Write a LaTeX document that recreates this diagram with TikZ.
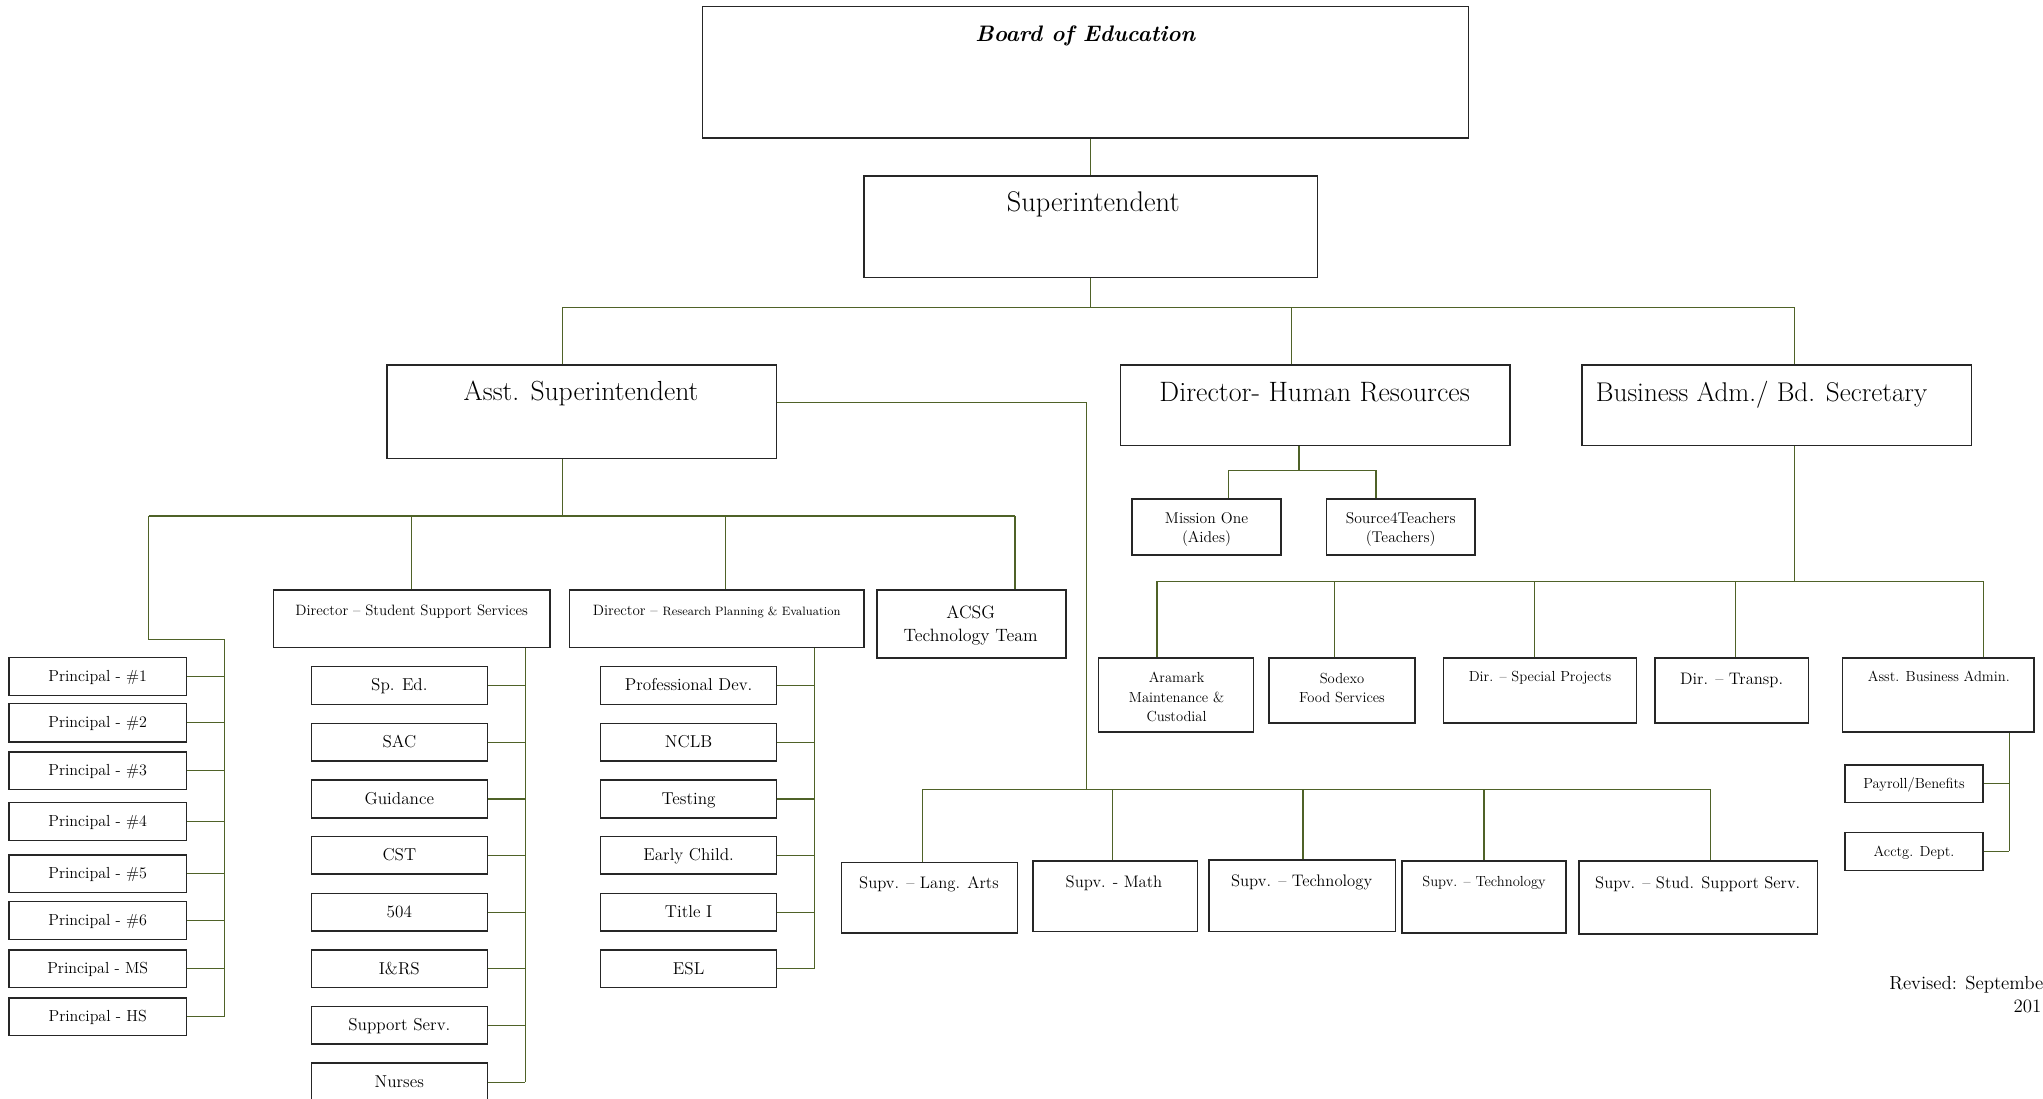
\documentclass[tikz,border=0pt]{standalone}
\usepackage{fontspec}
\usetikzlibrary{calc}
\definecolor{boxline}{HTML}{262626}
\definecolor{olive}{HTML}{4F6228}
\tikzset{
  obox/.style={draw=boxline, line width=1.2pt, fill=white, inner sep=0pt, rectangle},
  conn/.style={draw=olive, line width=0.9pt},
  txt/.style={inner sep=0pt, anchor=mid, align=center, text=black},
  fsuper/.style={font=\fontsize{21.8}{25}\selectfont},
  fasst/.style={font=\fontsize{21.2}{25}\selectfont},
  fhr/.style={font=\fontsize{21.5}{25}\selectfont},
  fbus/.style={font=\fontsize{20.8}{25}\selectfont},
  fboard/.style={font=\fontsize{17.2}{20}\selectfont\bfseries\itshape},
  fprin/.style={font=\fontsize{12.3}{15}\selectfont},
  fchild/.style={font=\fontsize{13.2}{15}\selectfont},
  fsup/.style={font=\fontsize{12.8}{15}\selectfont},
  fsm/.style={font=\fontsize{11.2}{15}\selectfont},
  fdir/.style={font=\fontsize{11.5}{15}\selectfont},
  fmis/.style={font=\fontsize{12}{15}\selectfont},
  facsg/.style={font=\fontsize{13.7}{18}\selectfont},
  frev/.style={font=\fontsize{14.5}{18}\selectfont},
}
\newcommand\bx[5]{\node[obox, minimum width={(#4-#2)*1pt}, minimum height={(#5-#3)*1pt}] (#1) at ({(#2+#4)/2},{(#3+#5)/2}) {};}
\newcommand\tx[5]{\node[txt, #4] (#1) at (#2,#3) {#5};}
\begin{document}
\begin{tikzpicture}[x=1pt,y=-1pt]
\useasboundingbox (0,0) rectangle (1568,843);
\fill[white] (0,0) rectangle (1568,843);
\clip (0,0) rectangle (1568,843);
% ---------- boxes ----------
\bx{board}{539}{5}{1127}{106}
\bx{sup}{663}{135}{1011}{213}
\bx{asst}{297}{280}{596}{352}
\bx{hr}{860}{280}{1159}{342}
\bx{bus}{1214}{280}{1513}{342}
\bx{m1}{869}{383}{983}{426}
\bx{s4t}{1018}{383}{1132}{426}
\bx{sss}{210}{453}{422}{497}
\bx{rpe}{437}{453}{663}{497}
\bx{acsg}{673}{453}{818}{505}
\bx{aram}{843}{505}{962}{562}
\bx{sodx}{974}{505}{1086}{555}
\bx{spp}{1108}{505}{1256}{555}
\bx{trn}{1270}{505}{1388}{555}
\bx{aba}{1414}{505}{1561}{562}
\bx{pay}{1416}{587}{1522}{616}
\bx{acc}{1416}{639}{1522}{668}
\bx{la}{646}{662}{781}{716}
\bx{mth}{793}{661}{919}{715}
\bx{tc1}{928}{660}{1071}{715}
\bx{tc2}{1076}{661}{1202}{716}
\bx{ssv}{1212}{661}{1395}{717}
% principals
\bx{p1}{7}{504.6}{143}{533.7}
\bx{p2}{7}{540}{143}{569.6}
\bx{p3}{7}{577}{143}{606}
\bx{p4}{7}{616}{143}{645}
\bx{p5}{7}{656}{143}{685}
\bx{p6}{7}{692}{143}{721}
\bx{pms}{7}{729}{143}{758}
\bx{phs}{7}{766}{143}{794.6}
% student support children
\bx{spe}{239}{511.6}{374}{540.7}
\bx{sac}{239}{555.3}{374}{584}
\bx{gui}{239}{598.7}{374}{627.8}
\bx{cst}{239}{642}{374}{671}
\bx{f04}{239}{685.7}{374}{714.5}
\bx{irs}{239}{729}{374}{758}
\bx{sus}{239}{772.5}{374}{801.3}
\bx{nur}{239}{816}{374}{845}
% research planning children
\bx{pd}{461}{511.6}{596}{540.7}
\bx{ncl}{461}{555.3}{596}{584}
\bx{tst}{461}{598.7}{596}{627.8}
\bx{ec}{461}{642}{596}{671}
\bx{ti}{461}{685.7}{596}{714.5}
\bx{esl}{461}{729}{596}{758}
% ---------- junctions ----------
\coordinate (t1) at (432,236);
\coordinate (t2) at (991,236);
\coordinate (t3) at (1377,236);
\coordinate (q0) at (114,396);
\coordinate (q1) at (432,396);
\coordinate (q2) at (316,396);
\coordinate (q3) at (557,396);
\coordinate (q4) at (779,396);
\coordinate (qa) at (114,491);
\coordinate (qb) at (172,491);
\coordinate (u0) at (403,497);
\coordinate (v0) at (625,497);
\coordinate (a1) at (596,309);
\coordinate (s0) at (834,606);
\coordinate (s1) at (708,606);
\coordinate (s2) at (854,606);
\coordinate (s3) at (1000,606);
\coordinate (s4) at (1139,606);
\coordinate (s5) at (1313,606);
\coordinate (h0) at (943,361);
\coordinate (h1) at (997,361);
\coordinate (h2) at (1056,361);
\coordinate (b0) at (1377,446);
\coordinate (b1) at (888,446);
\coordinate (b2) at (1024,446);
\coordinate (b3) at (1178,446);
\coordinate (b4) at (1332,446);
\coordinate (b5) at (1522,446);
\coordinate (w0) at (1542,562);
% ---------- connectors ----------
\draw[conn] (board.south -| sup.north) -- (sup.north);
\draw[conn] (sup.south) -- (sup.south |- t1);
\draw[conn] (t1) -- (t3);
\draw[conn] (t1) -- (t1 |- asst.north);
\draw[conn] (t2) -- (t2 |- hr.north);
\draw[conn] (t3) -- (t3 |- bus.north);
\draw[conn] (asst.south -| q1) -- (q1);
\draw[conn] (q0) -- (q4);
\draw[conn] (q0) -- (qa) -- (qb) -- (qb |- phs.east);
\foreach \n in {p1,p2,p3,p4,p5,p6,pms,phs} \draw[conn] (\n.east) -- (\n.east -| qb);
\draw[conn] (q2) -- (q2 |- sss.north);
\draw[conn] (q3) -- (q3 |- rpe.north);
\draw[conn] (q4) -- (q4 |- acsg.north);
\draw[conn] (sss.south -| u0) -- (u0 |- nur.east);
\foreach \n in {spe,sac,gui,cst,f04,irs,sus,nur} \draw[conn] (\n.east) -- (\n.east -| u0);
\draw[conn] (rpe.south -| v0) -- (v0 |- esl.east);
\foreach \n in {pd,ncl,tst,ec,ti,esl} \draw[conn] (\n.east) -- (\n.east -| v0);
\draw[conn] (asst.east |- a1) -| (s0);
\draw[conn] (s1) -- (s5);
\foreach \c/\n in {s1/la,s2/mth,s3/tc1,s4/tc2,s5/ssv} \draw[conn] (\c) -- (\c |- \n.north);
\draw[conn] (hr.south -| h1) -- (h1);
\draw[conn] (h0) -- (h2);
\draw[conn] (h0) -- (h0 |- m1.north);
\draw[conn] (h2) -- (h2 |- s4t.north);
\draw[conn] (bus.south -| b0) -- (b0);
\draw[conn] (b1) -- (b5);
\foreach \c/\n in {b1/aram,b2/sodx,b3/spp,b4/trn,b5/aba} \draw[conn] (\c) -- (\c |- \n.north);
\draw[conn] (aba.south -| w0) -- (w0 |- acc.east);
\draw[conn] (pay.east) -- (pay.east -| w0);
\draw[conn] (acc.east) -- (acc.east -| w0);
% ---------- texts ----------
\tx{boardt}{833}{30}{fboard}{Board of Education}
\tx{supt}{839}{160}{fsuper}{Superintendent}
\tx{asstt}{446}{305}{fasst}{Asst. Superintendent}
\tx{hrt}{1009}{306}{fhr}{Director- Human Resources}
\tx{bust}{1352}{306}{fbus}{Business Adm./ Bd. Secretary}
\tx{m1t}{926}{406.5}{fmis, anchor=center}{Mission One\\(Aides)}
\tx{s4tt}{1075}{406.5}{fmis, anchor=center}{Source4Teachers\\(Teachers)}
\tx{ssst}{316}{470}{fdir}{Director – Student Support Services}
\tx{rpet}{550}{470}{fdir}{Director – {\fontsize{9.3}{11}\selectfont Research Planning \& Evaluation}}
\tx{acsgt}{745}{480}{facsg, anchor=center}{ACSG\\Technology Team}
\tx{aramt}{903}{535}{fsm, anchor=center}{Aramark\\Maintenance \&\\Custodial}
\tx{sodxt}{1030}{528}{fsm, anchor=center}{Sodexo\\Food Services}
\tx{sppt}{1182}{521}{fsm}{Dir. – Special Projects}
\tx{trnt}{1329}{523}{fsup}{Dir. – Transp.}
\tx{abat}{1488}{521}{fsm}{Asst. Business Admin.}
\tx{payt}{1469}{603}{fsm}{Payroll/Benefits}
\tx{acct}{1469}{655}{fsm}{Acctg. Dept.}
\tx{lat}{713}{680}{fsup}{Supv. – Lang. Arts}
\tx{mtht}{855}{679}{fsup}{Supv. - Math}
\tx{tc1t}{999}{678}{fsup}{Supv. – Technology}
\tx{tc2t}{1139}{678}{fsm}{Supv. – Technology}
\tx{ssvt}{1303}{680}{fsup}{Supv. – Stud. Support Serv.}
\foreach \n/\t in {p1/Principal - \#1, p2/Principal - \#2, p3/Principal - \#3, p4/Principal - \#4, p5/Principal - \#5, p6/Principal - \#6, pms/Principal - MS, phs/Principal - HS}
  \node[txt, fprin, yshift=-1.5pt] (\n t) at (\n.center) {\t};
\foreach \n/\t in {spe/Sp. Ed., sac/SAC, gui/Guidance, cst/CST, f04/504, irs/I\&RS, sus/Support Serv., nur/Nurses, pd/Professional Dev., ncl/NCLB, tst/Testing, ec/Early Child., ti/Title I, esl/ESL}
  \node[txt, fchild, yshift=-2pt] (\n t) at (\n.center) {\t};
\node[txt, frev, anchor=north east, align=right] (rev) at (1574,749) {Revised: Septembe\phantom{r}\\201\phantom{0}};
\end{tikzpicture}
\end{document}
